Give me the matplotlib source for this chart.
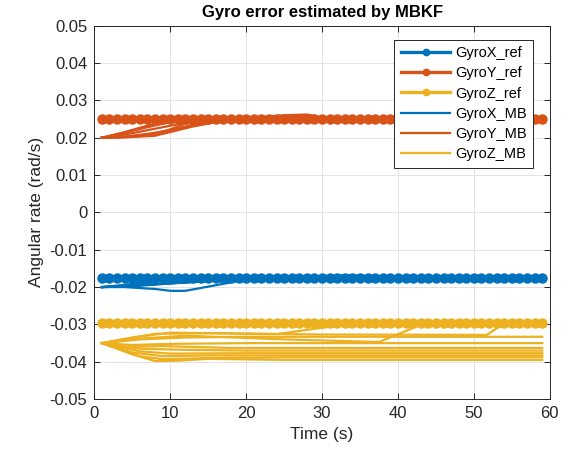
import matplotlib.pyplot as plt
import numpy as np

plt.rcParams['font.family'] = ['Liberation Sans', 'DejaVu Sans']

# reference gyro errors (rad/s), sampled every second
t_ref = np.arange(1, 60)
gyro_x_ref = -0.0175
gyro_y_ref = 0.025
gyro_z_ref = -0.0295

# MBKF estimates, one polyline per run: (times, values)
gyro_x_runs = [
    ([1, 5, 10, 15, 59], [-0.020, -0.0192, -0.0182, -0.0176, -0.0175]),
    ([1, 4, 8, 10, 12, 16, 20, 59], [-0.020, -0.0200, -0.0205, -0.0210, -0.0210, -0.0195, -0.0180, -0.0175]),
    ([1, 6, 12, 18, 59], [-0.020, -0.0195, -0.0188, -0.0178, -0.0175]),
    ([1, 5, 10, 20, 28, 33, 36, 40, 59], [-0.020, -0.0198, -0.0190, -0.0178, -0.0172, -0.0168, -0.0170, -0.0175, -0.0175]),
    ([1, 3, 7, 12, 16, 59], [-0.020, -0.0198, -0.0185, -0.0177, -0.0175, -0.0175]),
    ([1, 4, 9, 14, 22, 59], [-0.020, -0.0196, -0.0191, -0.0184, -0.0176, -0.0175]),
]

gyro_y_runs = [
    ([1, 4, 8, 12, 59], [0.020, 0.0215, 0.0238, 0.0249, 0.025]),
    ([1, 5, 10, 14, 59], [0.020, 0.0212, 0.0232, 0.0247, 0.025]),
    ([1, 6, 11, 16, 20, 24, 27, 30, 59], [0.020, 0.0205, 0.0225, 0.0245, 0.0252, 0.0256, 0.0258, 0.0251, 0.025]),
    ([1, 3, 8, 13, 17, 25, 28, 31, 59], [0.020, 0.0200, 0.0205, 0.0235, 0.0248, 0.0260, 0.0262, 0.0251, 0.025]),
    ([1, 4, 9, 12, 16, 20, 23, 59], [0.020, 0.0203, 0.0215, 0.0237, 0.0250, 0.0256, 0.0251, 0.025]),
    ([1, 3, 7, 10, 15, 59], [0.020, 0.0208, 0.0228, 0.0242, 0.0250, 0.025]),
    ([1, 5, 9, 13, 18, 59], [0.020, 0.0202, 0.0210, 0.0230, 0.0249, 0.025]),
]

gyro_z_runs = [
    ([1, 5, 10, 20, 24, 34.5, 59], [-0.035, -0.0335, -0.0322, -0.0325, -0.0326, -0.0296, -0.0296]),
    ([1, 6, 12, 25, 37.5, 43.5, 59], [-0.035, -0.0338, -0.0330, -0.0340, -0.0347, -0.0297, -0.0296]),
    ([1, 8, 15, 30, 51.7, 54, 59], [-0.035, -0.0325, -0.0323, -0.0327, -0.0328, -0.0297, -0.0296]),
    ([1, 6, 12, 20, 59], [-0.035, -0.0340, -0.0335, -0.0333, -0.0333]),
    ([1, 5, 10, 20, 59], [-0.035, -0.0355, -0.0352, -0.0350, -0.0350]),
    ([1, 4, 9, 18, 59], [-0.035, -0.0360, -0.0358, -0.0363, -0.0363]),
    ([1, 6, 12, 20, 59], [-0.035, -0.0365, -0.0368, -0.0370, -0.0370]),
    ([1, 6, 10, 20, 59], [-0.035, -0.0372, -0.0378, -0.0377, -0.0377]),
    ([1, 5, 9, 15, 25, 59], [-0.035, -0.0375, -0.0385, -0.0383, -0.0383, -0.0383]),
    ([1, 6, 9, 15, 25, 59], [-0.035, -0.0385, -0.0393, -0.0390, -0.0388, -0.0388]),
    ([1, 5, 8, 11, 15, 25, 59], [-0.035, -0.0380, -0.0398, -0.0397, -0.0392, -0.0395, -0.0395]),
]

# MATLAB default colour order
c_x = '#0072BD'
c_y = '#D95319'
c_z = '#EDB120'


def plot_runs(ax, runs, color, label):
    for i, (t, v) in enumerate(runs):
        ax.plot(t, v, color=color, lw=1.6, label=label if i == 0 else None)


fig = plt.figure(figsize=(5.68, 4.49), dpi=100)
ax = fig.add_axes([0.166, 0.111, 0.802, 0.832])

ref_style = dict(lw=2.4, marker='o', markersize=6.5)
ax.plot(t_ref, np.full(t_ref.shape, gyro_x_ref), color=c_x, label='GyroX_ref', **ref_style)
ax.plot(t_ref, np.full(t_ref.shape, gyro_y_ref), color=c_y, label='GyroY_ref', **ref_style)
ax.plot(t_ref, np.full(t_ref.shape, gyro_z_ref), color=c_z, label='GyroZ_ref', **ref_style)

plot_runs(ax, gyro_x_runs, c_x, 'GyroX_MB')
plot_runs(ax, gyro_y_runs, c_y, 'GyroY_MB')
plot_runs(ax, gyro_z_runs, c_z, 'GyroZ_MB')

ax.set_xlim(0, 60)
ax.set_ylim(-0.05, 0.05)
ax.set_xticks(np.arange(0, 61, 10))
yt = np.round(np.arange(-0.05, 0.051, 0.01), 2)
ax.set_yticks(yt)
ax.set_yticklabels(['0' if v == 0 else f'{v:.2f}' for v in yt])

ax.grid(True, color='#e3e3e3', lw=0.7)
ax.set_axisbelow(True)
ax.tick_params(direction='in', top=True, right=True, length=4, labelsize=12,
               colors='#262626', width=0.7, pad=5)
for s in ax.spines.values():
    s.set_color('#262626')
    s.set_linewidth(0.7)

ax.set_title('Gyro error estimated by MBKF', fontsize=12, fontweight='bold', pad=6)
ax.set_xlabel('Time (s)', fontsize=12.5, color='#262626')
ax.set_ylabel('Angular rate (rad/s)', fontsize=12.5, color='#262626')

leg = ax.legend(loc='upper right', bbox_to_anchor=(0.963, 0.962), borderaxespad=0,
                fontsize=10.5, handlelength=3.4, handletextpad=0.3, labelspacing=0.42,
                borderpad=0.45, markerscale=0.7, fancybox=False, framealpha=1,
                edgecolor='#262626')
leg.get_frame().set_linewidth(0.7)

fig.savefig('out.png', dpi=100)
